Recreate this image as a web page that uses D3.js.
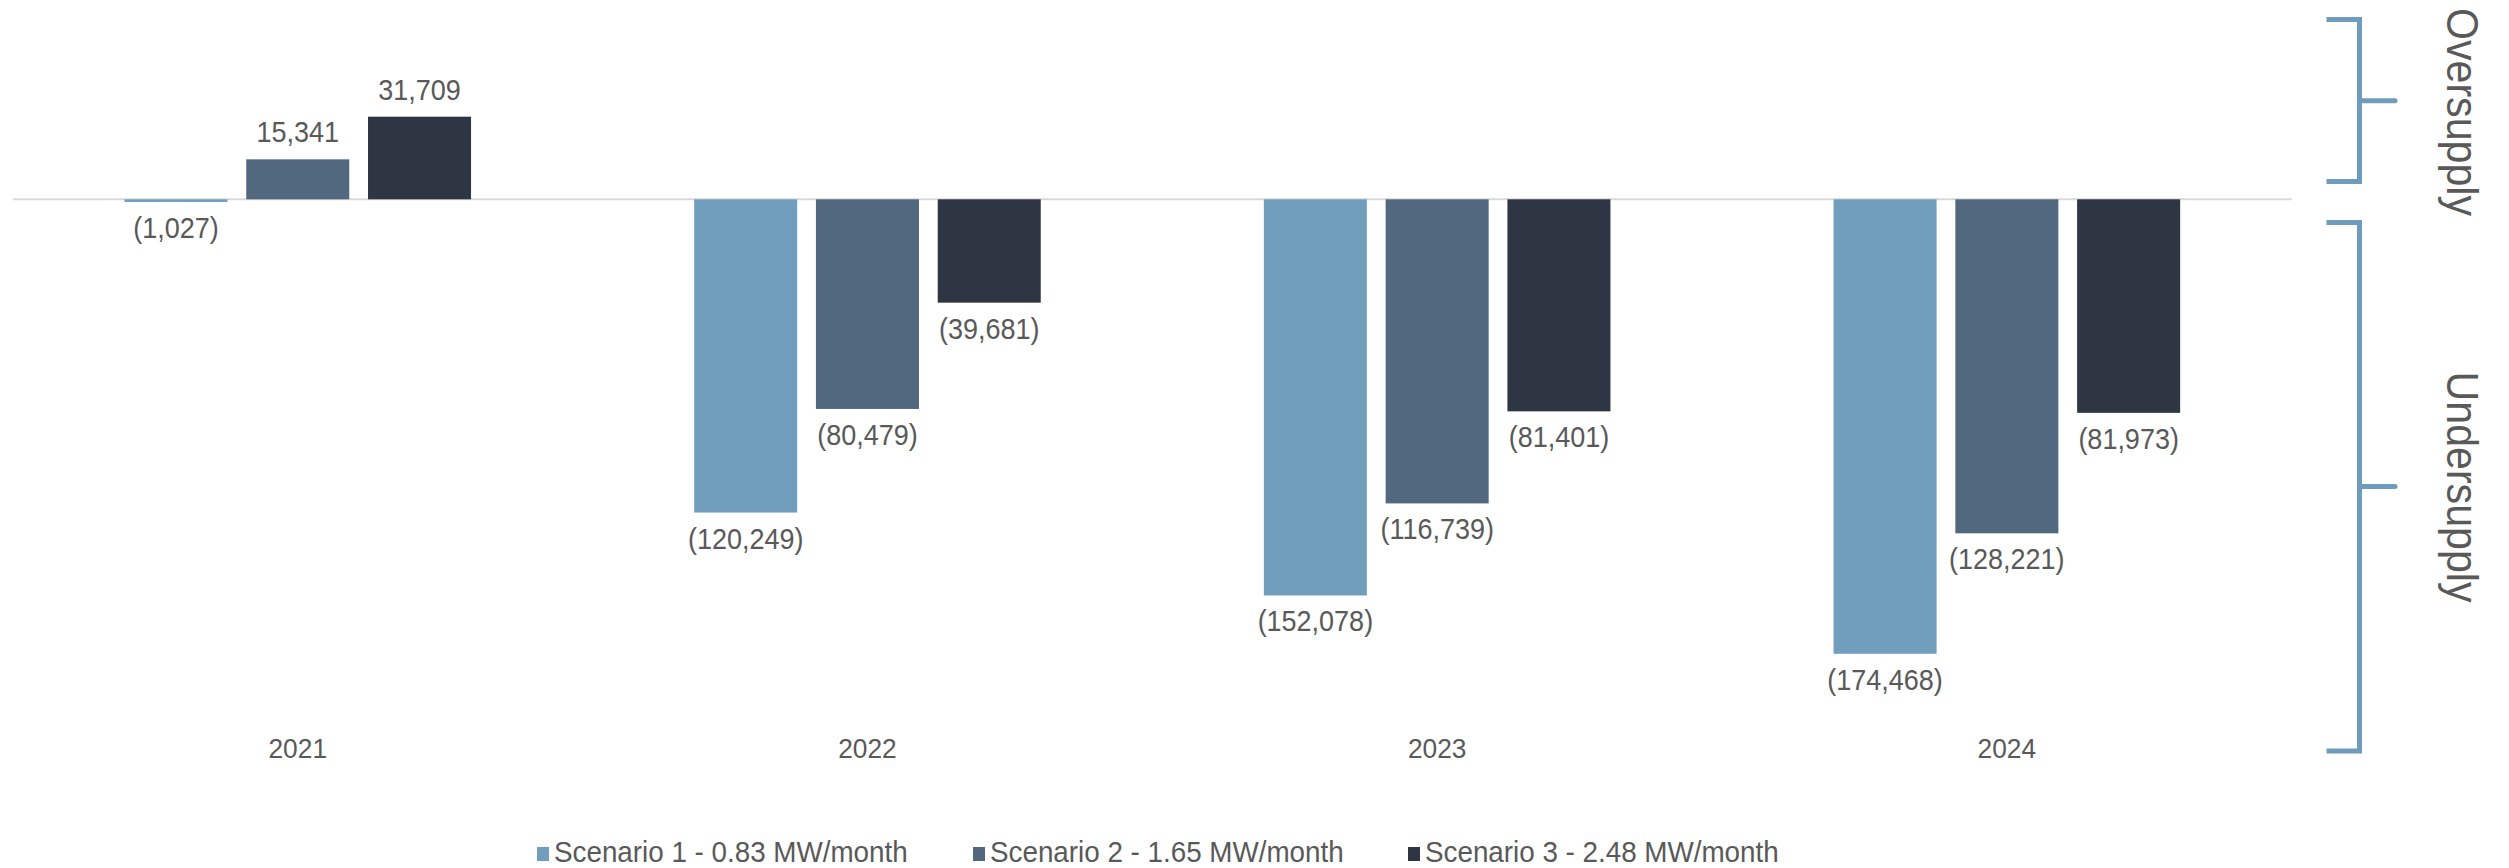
<!DOCTYPE html>
<html>
<head>
<meta charset="utf-8">
<script src="https://cdn.jsdelivr.net/npm/d3@7"></script>
<style>
  html, body { margin: 0; padding: 0; background: #ffffff; }
  svg { display: block; }
  text { font-family: "Liberation Sans", Arial, Helvetica, sans-serif; fill: #595959; }
</style>
</head>
<body>
<svg id="chart" width="2509" height="868"></svg>
<script>
// ---- Data ----
const categories = ["2021", "2022", "2023", "2024"];
const seriesNames = ["Scenario 1 - 0.83 MW/month", "Scenario 2 - 1.65 MW/month", "Scenario 3 - 2.48 MW/month"];
const scenario1 = [-1027, -120249, -152078, -174468];
const scenario2 = [15341, -80479, -116739, -128221];
const scenario3 = [31709, -39681, -81401, -81973];
const seriesColors = ["#729ebe", "#52687f", "#2d3642"];
const bracketLabels = ["Oversupply", "Undersupply"];

const seriesValues = [scenario1, scenario2, scenario3];

// ---- Layout ----
const svg = d3.select("#chart");

const x0 = d3.scaleBand().domain(categories).range([12.9, 2291.7]).paddingInner(0).paddingOuter(0);
const x1 = d3.scaleBand().domain(d3.range(seriesNames.length)).range([0, x0.bandwidth()])
  .paddingInner(0.154).paddingOuter(0.916);
const y = d3.scaleLinear().domain([-200000, 60000]).range([720.3, 43.0]);

const fmt = d3.format(",");
const labelText = v => v < 0 ? "(" + fmt(-v) + ")" : fmt(v);

// zero line
svg.append("line")
  .attr("x1", x0.range()[0]).attr("x2", x0.range()[1])
  .attr("y1", y(0)).attr("y2", y(0))
  .attr("stroke", "#d9d9d9").attr("stroke-width", 2);

// bars
const groups = svg.append("g").selectAll("g")
  .data(categories).join("g")
  .attr("transform", d => `translate(${x0(d)},0)`);

groups.each(function(cat, ci) {
  const g = d3.select(this);
  seriesValues.forEach((vals, si) => {
    const v = vals[ci];
    g.append("rect")
      .attr("x", x1(si))
      .attr("width", x1.bandwidth())
      .attr("y", Math.min(y(v), y(0)))
      .attr("height", Math.abs(y(v) - y(0)))
      .attr("fill", seriesColors[si]);
    const lx = x1(si) + x1.bandwidth() / 2;
    const ly = v >= 0 ? y(v) - 17 : y(v) + 36;
    g.append("text")
      .attr("transform", `translate(${lx},${ly}) scale(0.9,1)`)
      .attr("text-anchor", "middle")
      .attr("font-size", 30)
      .text(labelText(v));
  });
});

// category axis labels
const xAxis = d3.axisBottom(x0).tickSize(0).tickPadding(0);
const axG = svg.append("g").attr("transform", `translate(0,${758})`).call(xAxis);
axG.select(".domain").remove();
axG.selectAll("text")
  .attr("dy", 0).attr("y", 0)
  .attr("transform", "scale(0.94,1)")
  .attr("x", 0)
  .attr("font-size", 28)
  .style("font-family", "\"Liberation Sans\", Arial, sans-serif")
  .attr("fill", "#595959");

// legend
const legendX = [537, 973, 1408];
const leg = svg.append("g").selectAll("g").data(seriesNames).join("g")
  .attr("transform", (d, i) => `translate(${legendX[i]},0)`);
leg.append("rect").attr("x", 0).attr("y", 847).attr("width", 12).attr("height", 14)
  .attr("fill", (d, i) => seriesColors[i]);
leg.append("text")
  .attr("transform", "translate(17,862) scale(0.927,1)")
  .attr("font-size", 30).text(d => d);

// brackets
const bracketColor = "#6f9cbd";
const brackets = [
  { top: 19.4, bottom: 181.6, mid: 100.8, textY: 112, label: bracketLabels[0] },
  { top: 222.5, bottom: 751, mid: 486.5, textY: 487, label: bracketLabels[1] }
];
const bx = 2359.5, bLeft = 2326.5, bRight = 2395;
brackets.forEach(b => {
  svg.append("path")
    .attr("d", `M${bLeft},${b.top} H${bx} V${b.bottom} H${bLeft}`)
    .attr("fill", "none").attr("stroke", bracketColor).attr("stroke-width", 5);
  svg.append("line")
    .attr("x1", bx).attr("x2", bRight).attr("y1", b.mid).attr("y2", b.mid)
    .attr("stroke", bracketColor).attr("stroke-width", 5).attr("stroke-linecap", "round");
  svg.append("text")
    .attr("transform", `translate(2447,${b.textY}) rotate(90) scale(0.935,1)`)
    .attr("text-anchor", "middle")
    .attr("font-size", 44)
    .text(b.label);
});
</script>
</body>
</html>
